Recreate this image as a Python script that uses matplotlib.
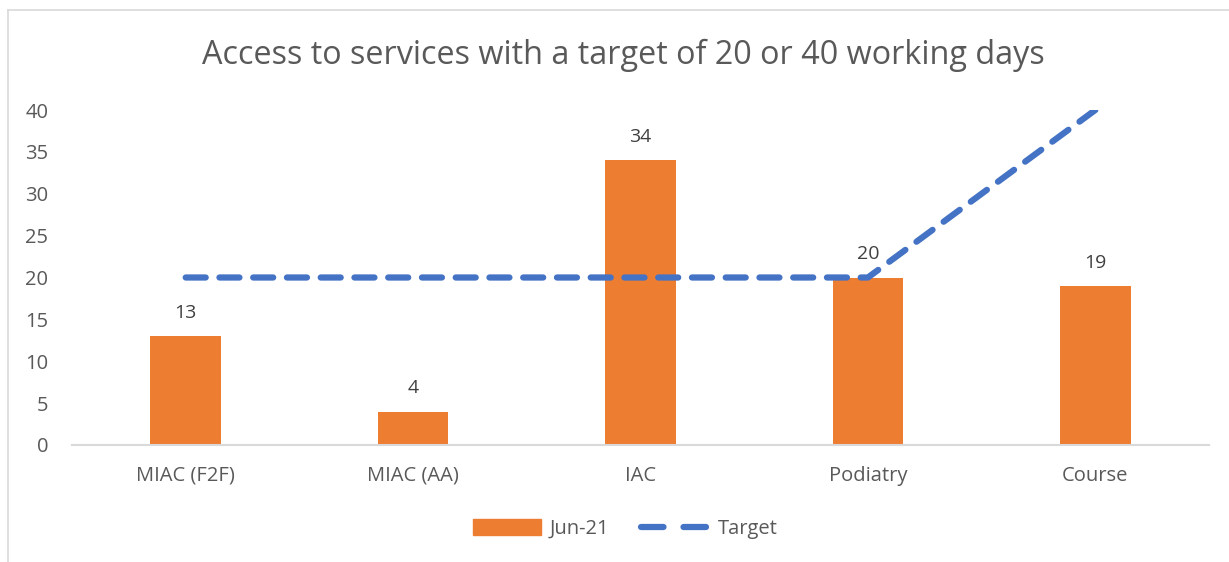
import matplotlib
matplotlib.use("Agg")
import matplotlib.pyplot as plt
from matplotlib.lines import Line2D

categories = ["MIAC (F2F)", "MIAC (AA)", "IAC", "Podiatry", "Course"]
jun21 = [13, 4, 34, 20, 19]
target = [20, 20, 20, 20, 40]
yticks = [0, 5, 10, 15, 20, 25, 30, 35, 40]

plt.rcParams['font.family'] = ['Open Sans', 'DejaVu Sans']

fig = plt.figure(figsize=(12.29, 5.62), dpi=100)
ax = fig.add_axes([72/1229, 1-445/562, (1209-72)/1229, (445-110)/562])

x = list(range(len(categories)))
bars = ax.bar(x, jun21, width=0.31, color="#ED7D31", label="Jun-21", zorder=2)
ax.plot(x, target, color="#4472C4", lw=4.5, dashes=(3.2, 2.2), dash_capstyle="round",
        solid_capstyle="round", label="Target", zorder=3)

for xi, v in zip(x, jun21):
    ax.text(xi, v + 1.7, str(v), ha="center", va="bottom", fontsize=14, color="#404040")

ax.set_xlim(-0.5, len(categories) - 0.5)
ax.set_ylim(0, 40)
ax.set_yticks(yticks)
ax.set_xticks(x)
ax.set_xticklabels(categories)
ax.tick_params(axis="both", length=0, labelsize=14.5, colors="#595959")
ax.tick_params(axis="y", pad=17)
ax.tick_params(axis="x", pad=15)
for s in ["top", "right", "left"]:
    ax.spines[s].set_visible(False)
ax.spines["bottom"].set_color("#D9D9D9")
ax.spines["bottom"].set_linewidth(1.5)

fig.text(623/1229, 1-55/562, "Access to services with a target of 20 or 40 working days",
         ha="center", va="center", fontsize=23.3, color="#595959")

handles = [plt.Rectangle((0, 0), 1, 1, color="#ED7D31"),
           Line2D([0], [0], color="#4472C4", lw=4.5, dashes=(3.6, 3.2), dash_capstyle="round")]
fig.legend(handles, ["Jun-21", "Target"], loc="center", bbox_to_anchor=(625/1229, 1-529/562),
           ncol=2, frameon=False, fontsize=14.5, labelcolor="#595959", handlelength=3.4,
           handleheight=0.8, columnspacing=1.6, handletextpad=0.4)

# chart border (top and left visible)
fig.add_artist(Line2D([8/1229, 1], [1-10/562, 1-10/562], color="#D9D9D9", lw=1.2, transform=fig.transFigure))
fig.add_artist(Line2D([8/1229, 8/1229], [0, 1-10/562], color="#D9D9D9", lw=1.2, transform=fig.transFigure))

fig.savefig("out.png", dpi=100, facecolor="white")
